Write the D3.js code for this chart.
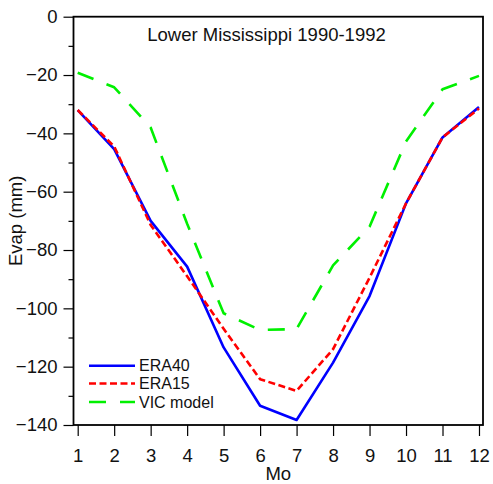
<!DOCTYPE html>
<html>
<head>
<meta charset="utf-8">
<script src="https://cdn.jsdelivr.net/npm/d3@7"></script>
<style>
  html, body { margin: 0; padding: 0; background: #fff; }
  svg { display: block; font-family: "Liberation Sans", Arial, sans-serif; }
</style>
</head>
<body>
<svg id="chart" width="493" height="484"></svg>
<script>
// Monthly evaporation, Lower Mississippi basin, 1990-1992 (mm)
const months = [1, 2, 3, 4, 5, 6, 7, 8, 9, 10, 11, 12];
const era40 = [-32, -45.4, -70, -85.7, -113.4, -133.4, -138.3, -118.6, -95.8, -64, -41.4, -31];
const era15 = [-32, -44.5, -71.4, -89, -107, -124.3, -128.3, -114, -89.5, -64, -41.4, -31.5];
const vic   = [-19.2, -24.2, -38, -71, -101.7, -107.4, -107.1, -85.3, -72, -42.8, -24.9, -20.3];
const yTicks = [0, -20, -40, -60, -80, -100, -120, -140];
const yMinorTicks = [-10, -30, -50, -70, -90, -110, -130];

const seriesNames = ["ERA40", "ERA15", "VIC model"];
const seriesData = [era40, era15, vic];
const seriesColors = ["#0000ff", "#ff0000", "#00f000"];
const seriesDash = [null, "7,3.5", "17,14"];

const svg = d3.select("#chart");
const plotLeft = 73.5, plotRight = 483, plotTop = 16.7, plotBottom = 425;
const fontSize = 18.5;

const x = d3.scaleLinear().domain([0.885, 12.11]).range([plotLeft, plotRight]);
const y = d3.scaleLinear().domain([0, -140]).range([plotTop, plotBottom]);

// plot frame
svg.append("rect")
  .attr("x", plotLeft).attr("y", plotTop)
  .attr("width", plotRight - plotLeft).attr("height", plotBottom - plotTop)
  .attr("fill", "none").attr("stroke", "#000").attr("stroke-width", 1.8);

// y axis
const yAxis = d3.axisLeft(y).tickValues(yTicks).tickSize(10).tickPadding(6).tickFormat(d3.format("d"));
const gy = svg.append("g").attr("transform", `translate(${plotLeft},0)`).call(yAxis);
gy.select(".domain").remove();
gy.selectAll("line").attr("stroke-width", 1.2);
gy.selectAll("text").attr("font-size", fontSize).attr("fill", "#111");
svg.append("g").attr("transform", `translate(${plotLeft},0)`)
  .call(d3.axisLeft(y).tickValues(yMinorTicks).tickSize(5).tickFormat(""))
  .call(g => g.select(".domain").remove())
  .selectAll("line").attr("stroke-width", 1.2);

// x axis
const xAxis = d3.axisBottom(x).tickValues(months).tickSize(11).tickPadding(13).tickFormat(d3.format("d"));
const gx = svg.append("g").attr("transform", `translate(0,${plotBottom})`).call(xAxis);
gx.select(".domain").remove();
gx.selectAll("line").attr("stroke-width", 1.2);
gx.selectAll("text").attr("font-size", fontSize).attr("fill", "#111");

// axis titles
svg.append("text")
  .attr("transform", `translate(17,${(plotTop + plotBottom) / 2}) rotate(-90)`)
  .attr("text-anchor", "middle").attr("dominant-baseline", "middle")
  .attr("font-size", fontSize).attr("fill", "#111")
  .text("Evap (mm)");
svg.append("text")
  .attr("x", (plotLeft + plotRight) / 2).attr("y", 480)
  .attr("text-anchor", "middle")
  .attr("font-size", fontSize).attr("fill", "#111")
  .text("Mo");

// title
svg.append("text")
  .attr("x", 266.5).attr("y", 41)
  .attr("text-anchor", "middle")
  .attr("font-size", fontSize).attr("fill", "#111")
  .text("Lower Mississippi 1990-1992");

// series lines
const line = d3.line().x((d, i) => x(months[i])).y(d => y(d));
seriesData.forEach((vals, k) => {
  svg.append("path")
    .datum(vals)
    .attr("d", line)
    .attr("fill", "none")
    .attr("stroke", seriesColors[k])
    .attr("stroke-width", 2.6)
    .attr("stroke-dasharray", seriesDash[k])
    .attr("stroke-linejoin", "round");
});

// legend
const legendY = [365.7, 383.5, 402];
seriesNames.forEach((name, k) => {
  svg.append("line")
    .attr("x1", 89).attr("x2", 135)
    .attr("y1", legendY[k]).attr("y2", legendY[k])
    .attr("stroke", seriesColors[k]).attr("stroke-width", 2.6)
    .attr("stroke-dasharray", seriesDash[k]);
  svg.append("text")
    .attr("x", 139).attr("y", legendY[k])
    .attr("dominant-baseline", "central")
    .attr("font-size", 16).attr("fill", "#111")
    .text(name);
});
</script>
</body>
</html>
